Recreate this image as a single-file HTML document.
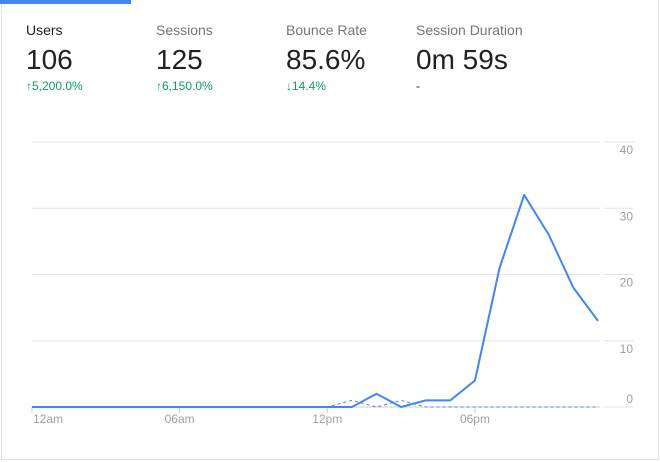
<!DOCTYPE html>
<html><head><meta charset="utf-8"><style>
body{margin:0;width:660px;height:462px;background:#fff;font-family:"Liberation Sans",sans-serif;overflow:hidden}
#card{position:absolute;left:1px;top:1px;width:656px;height:458px;border:1px solid #e0e0e0;border-top:none}
.tab{position:absolute;top:0;height:4px;background:#4285f4}
.m{position:absolute;top:22px}
.lbl{font-size:14px;color:#757575}
.val{font-size:28px;color:#212121;margin-top:6px;line-height:32px}
.chg{font-size:12px;color:#0f9d58;margin-top:3px}
</style></head><body>
<div id="card"></div>
<div class="tab" style="left:0;width:131px"></div>
<div class="m" style="left:26px"><div class="lbl" style="color:#212121">Users</div><div class="val">106</div><div class="chg">↑5,200.0%</div></div>
<div class="m" style="left:156px"><div class="lbl">Sessions</div><div class="val">125</div><div class="chg">↑6,150.0%</div></div>
<div class="m" style="left:286px"><div class="lbl">Bounce Rate</div><div class="val">85.6%</div><div class="chg">↓14.4%</div></div>
<div class="m" style="left:416px"><div class="lbl">Session Duration</div><div class="val">0m 59s</div><div class="chg" style="color:#212121">-</div></div>
<svg id="chart" width="660" height="462" style="position:absolute;left:0;top:0"></svg>
<script>
const hours=[0,1,2,3,4,5,6,7,8,9,10,11,12,13,14,15,16,17,18,19,20,21,22,23];
const current=[0,0,0,0,0,0,0,0,0,0,0,0,0,0,2,0,1,1,4,21,32,26,18,13];
const previous=[0,0,0,0,0,0,0,0,0,0,0,0,0,1,0,1,0,0,0,0,0,0,0,0];
const yTicks=[0,10,20,30,40];
const xTickHours=[0,6,12,18];
const xTickLabels=["12am","06am","12pm","06pm"];
const svg=document.getElementById('chart');const NS='http://www.w3.org/2000/svg';
const x=h=>32+h*(566/23);const y=v=>407-v*(265/40);
function mk(t,a){const e=document.createElementNS(NS,t);for(const k in a)e.setAttribute(k,a[k]);svg.appendChild(e);return e;}
yTicks.forEach(v=>{
 const g=mk('line',{x1:32,x2:600,y1:y(v),y2:y(v),stroke:v===0?'#ccc':'#e6e6e6','stroke-width':1});
 
 
 const g2=mk('line',{x1:604,x2:634,y1:y(v),y2:y(v),stroke:'#e6e6e6','stroke-width':1});
 
 
 const t=mk('text',{x:633,y:v===0?y(v)-4:y(v)+12,'text-anchor':'end','font-size':12,fill:'#9e9e9e','font-family':'Liberation Sans, sans-serif'});
 t.textContent=v;
 
 
});
xTickHours.forEach((h,i)=>{
 const l=mk('line',{x1:x(h),x2:x(h),y1:407,y2:413,stroke:'#ccc'});
 
 
 const t=mk('text',{x:i===0?x(h)+1:x(h),y:423,'text-anchor':i===0?'start':'middle','font-size':12,fill:'#9e9e9e','font-family':'Liberation Sans, sans-serif'});
 t.textContent=xTickLabels[i];
 
 
});
const pp=mk('polyline',{points:hours.map((h,i)=>x(h)+','+y(previous[i])).join(' '),fill:'none',stroke:'#4285f4','stroke-width':1,'stroke-dasharray':'3,3'});


const cp=mk('polyline',{points:hours.map((h,i)=>x(h)+','+y(current[i])).join(' '),fill:'none',stroke:'#4285f4','stroke-width':2,'stroke-linejoin':'round'});


</script>
</body></html>
